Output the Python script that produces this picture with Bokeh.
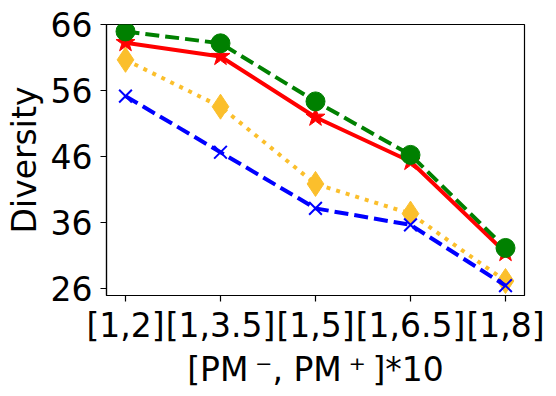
from bokeh.plotting import figure
from bokeh.models import FixedTicker, Range1d
from bokeh.embed import file_html
from bokeh.resources import INLINE

categories = ["[1,2]", "[1,3.5]", "[1,5]", "[1,6.5]", "[1,8]"]
green_vals = [65.0, 63.2, 54.4, 46.3, 32.2]
red_vals = [63.3, 61.2, 52.0, 45.3, 31.5]
yellow_vals = [60.7, 53.6, 41.9, 37.4, 27.2]
blue_vals = [55.2, 46.7, 38.2, 35.7, 26.5]
y_ticks = [26, 36, 46, 56, 66]

xs = list(range(len(categories)))
FONT = "DejaVu Sans"

p = figure(output_backend="svg", toolbar_location=None,
           width=556, height=396,
           min_border_left=106, min_border_top=24, min_border_right=32, min_border_bottom=101,
           x_range=Range1d(-0.2, 4.2), y_range=Range1d(25, 66.05))

p.xgrid.visible = False
p.ygrid.visible = False
p.outline_line_color = "black"
p.outline_line_width = 1.2
p.background_fill_color = "white"
p.border_fill_color = "white"

yellow = "#FBBF2C"
p.line(xs, yellow_vals, color=yellow, line_width=4, line_dash="4 6")
p.scatter(xs, yellow_vals, marker="diamond", size=25, color=yellow)
p.line(xs, blue_vals, color="blue", line_width=4, line_dash="14 6")
p.scatter(xs, blue_vals, marker="x", size=18, line_color="blue", line_width=2)
p.line(xs, red_vals, color="red", line_width=4)
p.scatter(xs, red_vals, marker="star", size=20, color="red")
p.line(xs, green_vals, color="green", line_width=4, line_dash="14 6")
p.scatter(xs, green_vals, marker="circle", size=19, color="green")

for ax in (p.xaxis[0], p.yaxis[0]):
    ax.major_label_text_font = FONT
    ax.major_label_text_font_size = "33px"
    ax.major_label_text_color = "black"
    ax.axis_label_text_font = FONT
    ax.axis_label_text_font_size = "33px"
    ax.axis_label_text_font_style = "normal"
    ax.axis_label_text_color = "black"
    ax.minor_tick_line_color = None
    ax.major_tick_in = 0
    ax.major_tick_out = 6
    ax.major_tick_line_width = 1.2
    ax.axis_line_width = 1.2

p.xaxis.major_label_standoff = 4
p.yaxis.major_label_standoff = 8
p.xaxis.ticker = FixedTicker(ticks=xs)
p.xaxis.major_label_overrides = {i: c for i, c in zip(xs, categories)}
p.yaxis.ticker = FixedTicker(ticks=y_ticks)
p.xaxis.axis_label = "[PM\u2009\u207b, PM\u2009\u207a\u2009]*10"
p.yaxis.axis_label = "Diversity"
p.xaxis.axis_label_standoff = 2
p.yaxis.axis_label_standoff = 4

open("out.html", "w").write(file_html(p, INLINE))
